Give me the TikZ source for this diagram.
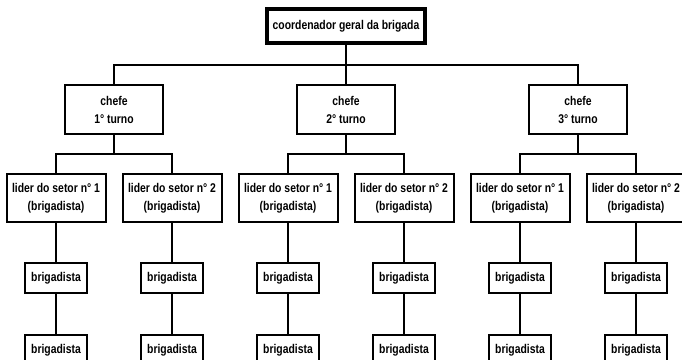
\documentclass[tikz,border=0pt]{standalone}
\usepackage{fontspec}
\setmainfont{Liberation Sans}[FakeStretch=0.82]
\begin{document}
\begin{tikzpicture}[x=0.75pt, y=-0.75pt, line width=1.5pt, line join=miter]

		\tikzset{box/.style={draw, align=center, inner sep=1pt, font=\bfseries\fontsize{9.5}{13.5}\selectfont}}
		\tikzset{chefe box/.style={box, minimum width=73.5pt, minimum height=36.75pt}}
		\tikzset{lider box/.style={box, minimum width=74.25pt, minimum height=36pt}}
		\tikzset{brig box/.style={box, minimum width=46.5pt, minimum height=22.5pt}}

		\useasboundingbox (0,0) rectangle (682,360);
		\clip (0,0) rectangle (682,360);

		\node[box, line width=3pt, minimum width=119pt, minimum height=25.5pt] (coord) at (346,26) {coordenador geral da brigada};
		\coordinate (bus) at (346,65);
		\draw (coord) -- (bus);
		\foreach \t/\x in {1/114,2/346,3/578}{
		\node[chefe box] (chefe\t) at (\x,109.5) {chefe\\\t° turno};
		\draw (bus) -| (chefe\t);
		\coordinate (sub\t) at (\x,154);
		\draw (chefe\t) -- (sub\t);
		\foreach \s/\d/\n in {a/-58/1,b/58/2}{
		\node[lider box] (lider\t\s) at ({\x+\d},198) {lider do setor n° \n\\(brigadista)};
		\draw (sub\t) -| (lider\t\s);
		\node[brig box] (brig\t\s) at ({\x+\d},278) {brigadista};
		\node[brig box] (brigb\t\s) at ({\x+\d},350) {brigadista};
		\draw (lider\t\s) -- (brig\t\s) -- (brigb\t\s);
		}
		}
		\end{tikzpicture}
\end{document}
